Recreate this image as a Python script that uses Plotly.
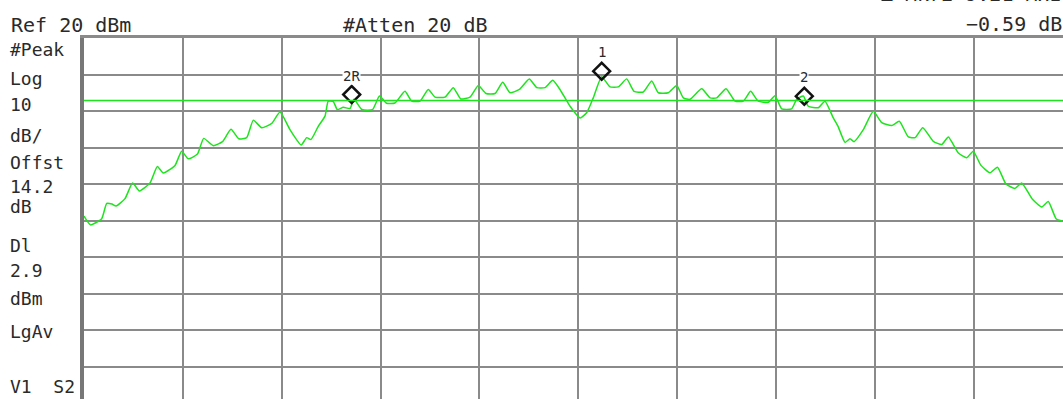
import plotly.graph_objects as go

# ---- data (x in screen divisions, y in dBm) ----
freq_div = [0.000, 0.066, 0.179, 0.230, 0.283, 0.324, 0.415, 0.491, 0.561, 0.668,
            0.742, 0.802, 0.921, 0.988, 1.055, 1.148, 1.211, 1.308, 1.401, 1.487,
            1.566, 1.646, 1.713, 1.798, 1.899, 1.983, 2.084, 2.197, 2.253, 2.296,
            2.370, 2.438, 2.471, 2.522, 2.562, 2.623, 2.691, 2.731, 2.812, 2.919,
            2.989, 3.062, 3.146, 3.247, 3.315, 3.399, 3.483, 3.551, 3.652, 3.736,
            3.811, 3.905, 3.989, 4.067, 4.158, 4.236, 4.310, 4.404, 4.505, 4.580,
            4.664, 4.742, 4.815, 4.917, 5.018, 5.085, 5.152, 5.237, 5.321, 5.405,
            5.490, 5.564, 5.658, 5.743, 5.810, 5.911, 5.996, 6.063, 6.130, 6.249,
            6.333, 6.401, 6.495, 6.586, 6.670, 6.744, 6.821, 6.923, 6.990, 7.058,
            7.159, 7.210, 7.277, 7.327, 7.428, 7.496, 7.580, 7.628, 7.699, 7.749,
            7.790, 7.884, 7.985, 8.070, 8.171, 8.248, 8.339, 8.407, 8.485, 8.592,
            8.677, 8.744, 8.845, 8.930, 8.996, 9.074, 9.165, 9.241, 9.327, 9.418,
            9.486, 9.595, 9.688, 9.755, 9.836, 9.904, 10.000]
trace_dbm = [-28.8, -31.2, -29.5, -25.3, -25.5, -26.0, -24.0, -19.7, -21.9, -19.7,
             -15.2, -17.0, -14.9, -11.0, -13.1, -11.8, -7.5, -9.5, -8.4, -5.0,
             -7.6, -7.3, -2.5, -4.6, -3.4, -0.3, -5.1, -9.3, -7.3, -7.8,
             -4.2, -1.4, 2.7, 2.6, 0.4, 1.0, 0.7, 3.2, 0.4, 0.4,
             4.1, 2.1, 2.2, 5.4, 2.7, 2.7, 5.9, 3.8, 3.8, 6.4,
             3.3, 3.8, 7.0, 4.8, 4.8, 7.9, 5.0, 5.9, 8.8, 6.4,
             6.4, 8.4, 5.9, 1.3, -1.9, -0.5, 3.6, 9.4, 6.6, 6.6,
             8.8, 5.4, 5.2, 8.2, 5.0, 5.0, 7.0, 3.6, 3.2, 6.1,
             3.6, 3.6, 6.1, 2.7, 2.7, 5.4, 2.7, 2.4, 4.2, 0.6,
             0.6, 3.2, 4.1, 1.3, 0.9, 2.7, -1.9, -4.2, -8.6, -7.6,
             -8.4, -5.1, -0.1, -3.2, -4.0, -2.8, -7.1, -7.3, -4.6, -8.3,
             -9.2, -7.1, -11.5, -12.8, -11.0, -14.9, -16.9, -15.4, -20.0, -21.2,
             -19.7, -24.2, -26.3, -24.8, -29.6, -30.2, -30.6]

marker_names = ["2R", "1", "2"]
marker_div = [2.708, 5.237, 7.287]
marker_dbm = [4.5, 10.9, 4.05]

ref_level_dbm = 20
db_per_div = 10
display_line_dbm = 2.9

left_labels = ["#Peak", "Log", "10", "dB/", "Offst", "14.2", "dB",
               "Dl", "2.9", "dBm", "LgAv", "V1  S2"]
left_label_y = [49, 78, 104.5, 135, 162, 186, 206, 245, 270, 298, 331, 386]

# ---- figure geometry ----
W, H = 1063, 399
ML, MT = 84, 38
PW, PH = W - ML, H - MT
DIV_PX_X = 98.85
DIV_PX_Y = 36.5
x_range = [0, PW / DIV_PX_X]
y_range = [ref_level_dbm - PH / DIV_PX_Y * db_per_div, ref_level_dbm]

GREEN = "#1ee41e"
GRID = "#8a8a8a"
TXT = "#2a2a2a"
FONT = "DejaVu Sans Mono"

fig = go.Figure()
fig.add_trace(go.Scatter(
    x=freq_div, y=trace_dbm, mode="lines",
    line=dict(color=GREEN, width=1.5, shape="spline", smoothing=0.5),
    hoverinfo="skip", showlegend=False))

fig.add_hline(y=display_line_dbm, line=dict(color=GREEN, width=1.5), layer="above")

fig.add_trace(go.Scatter(
    x=marker_div, y=marker_dbm, mode="markers",
    marker=dict(symbol="diamond-open", size=13, color="#111111",
                line=dict(width=2.5, color="#111111")),
    hoverinfo="skip", showlegend=False, cliponaxis=False))

for name, xv, yv in zip(marker_names, marker_div, marker_dbm):
    fig.add_annotation(x=xv, y=yv, xref="x", yref="y", text=name, showarrow=False,
                       yshift=19, font=dict(family=FONT, size=14, color=TXT),
                       bgcolor="white", borderpad=0)

def px_to_paper_x(px):
    return (px - ML) / PW

def px_to_paper_y(py):
    return (H - py) / PH

for lab, yy in zip(left_labels, left_label_y):
    fig.add_annotation(x=px_to_paper_x(9), y=px_to_paper_y(yy), xref="paper", yref="paper",
                       xanchor="left", yanchor="middle", text=lab, showarrow=False,
                       font=dict(family=FONT, size=18, color=TXT), borderpad=0)

top_texts = [("Ref 20 dBm", 10, 24.5, "left"),
             ("#Atten 20 dB", 342, 24.5, "left"),
             ("\u0394 Mkr2 9.21 MHz", 1063, -5.5, "right"),
             ("\u22120.59 dB", 1063, 24, "right")]
for t, xx, yy, anc in top_texts:
    fig.add_annotation(x=px_to_paper_x(xx), y=px_to_paper_y(yy), xref="paper", yref="paper",
                       xanchor=anc, yanchor="middle", text=t, showarrow=False,
                       font=dict(family=FONT, size=20, color=TXT), borderpad=0)

fig.update_xaxes(range=x_range, tick0=0, dtick=1, showgrid=True, gridcolor=GRID, gridwidth=2,
                 showticklabels=False, ticks="", zeroline=False,
                 showline=True, side="top", linecolor=GRID, linewidth=3)
fig.update_yaxes(range=y_range, tick0=ref_level_dbm, dtick=db_per_div, showgrid=True,
                 gridcolor=GRID, gridwidth=2, showticklabels=False, ticks="", zeroline=False,
                 showline=True, linecolor="#777777", linewidth=4)

fig.update_layout(width=W, height=H, margin=dict(l=ML, r=0, t=MT, b=0, pad=0),
                  paper_bgcolor="white", plot_bgcolor="white", showlegend=False)

fig.write_html("out.html", config={"displayModeBar": False},
               post_script="document.body.style.margin='0';document.body.style.overflow='hidden';")
